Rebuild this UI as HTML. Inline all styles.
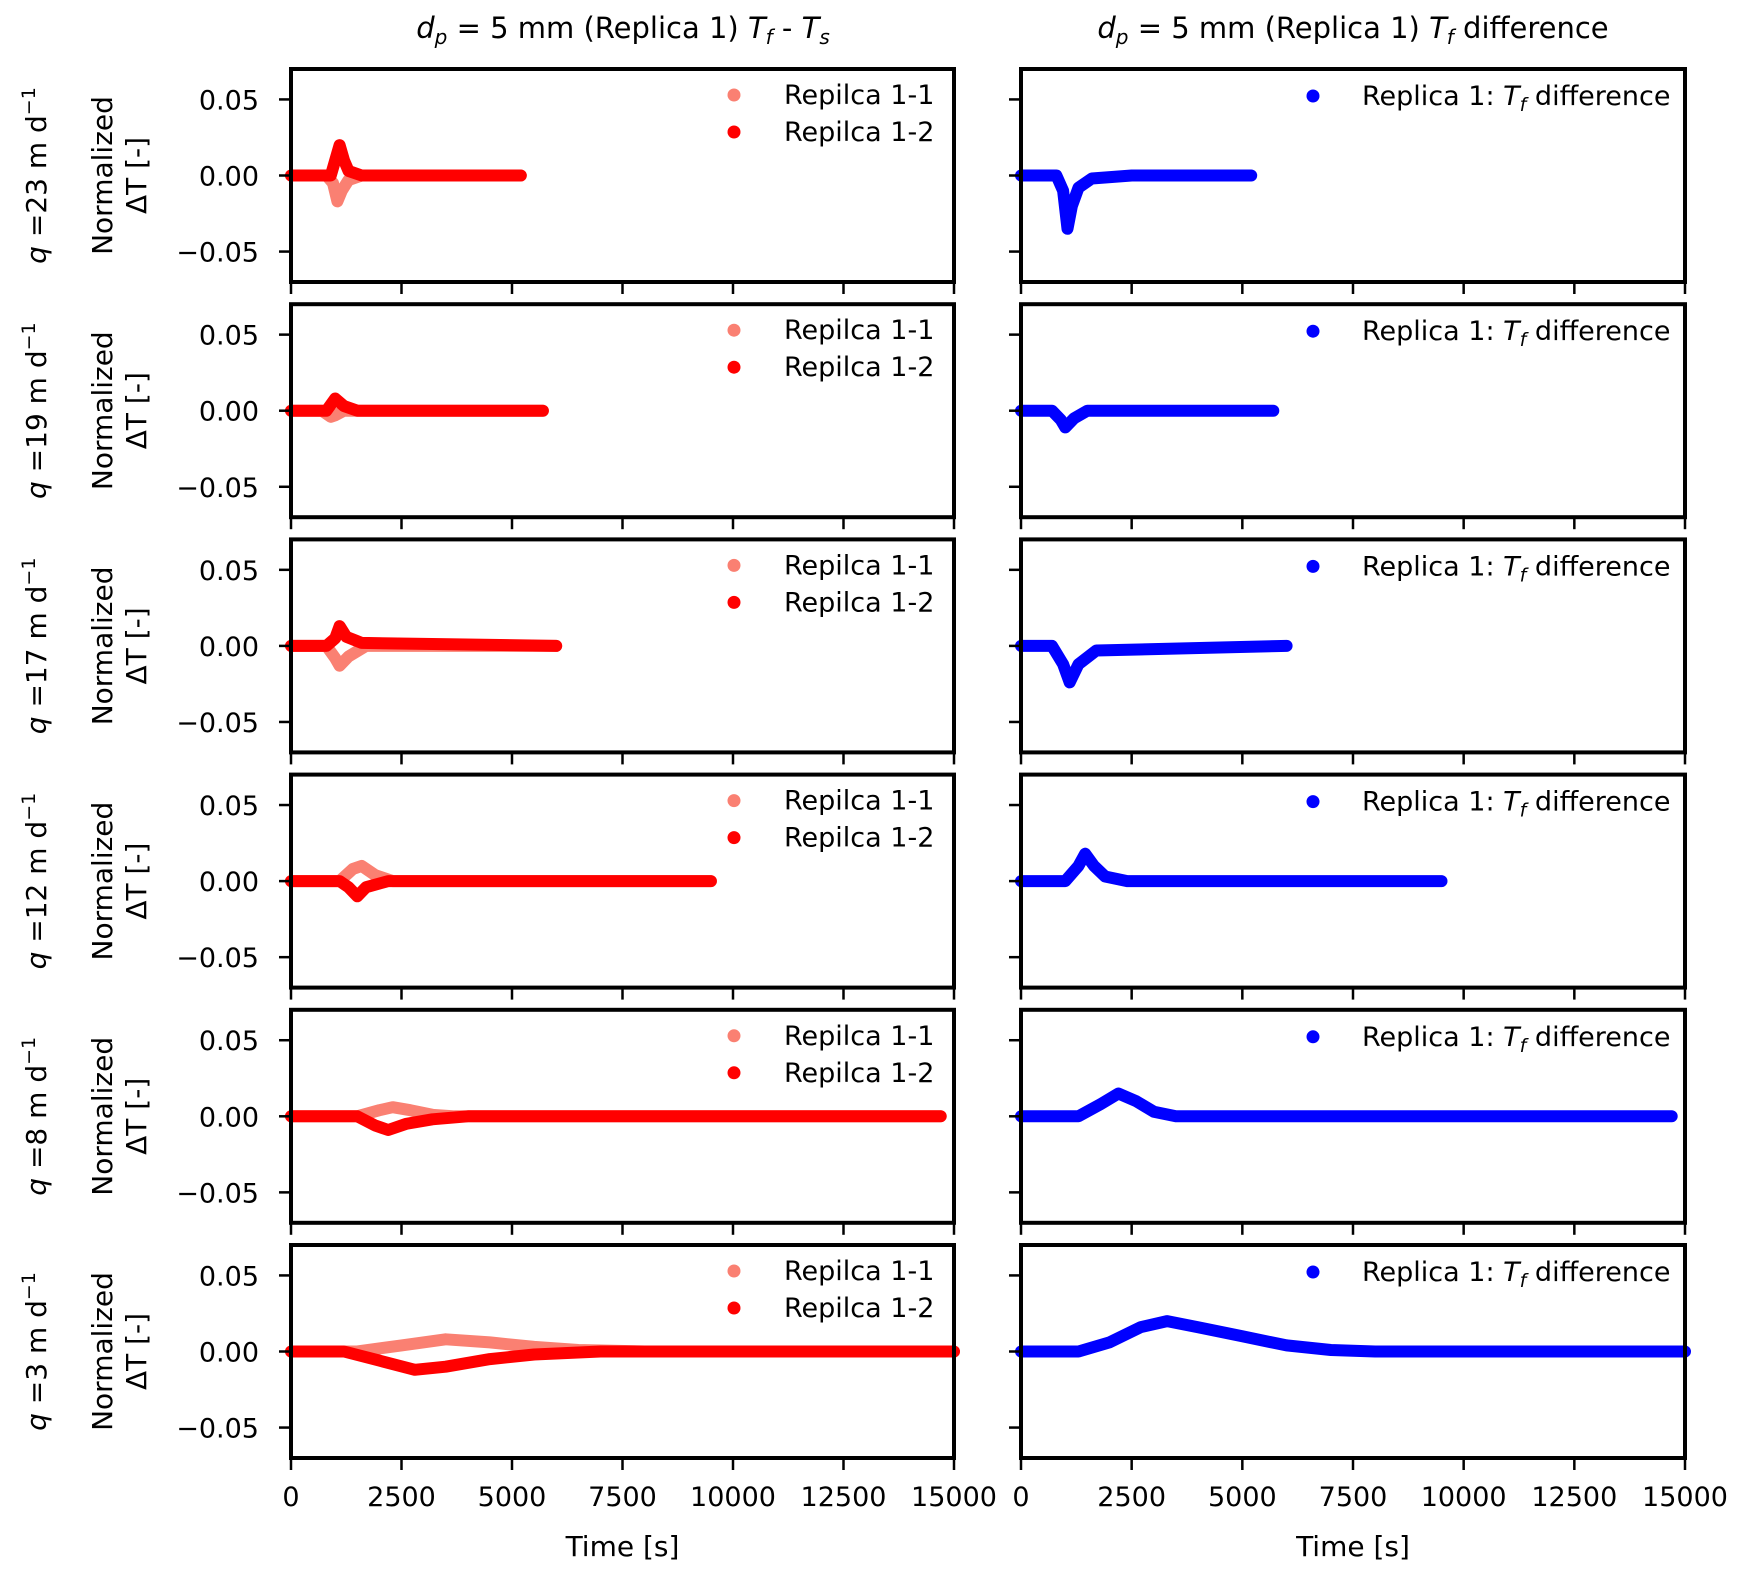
<!DOCTYPE html>
<html><head><meta charset="utf-8"><style>
body{margin:0;background:#fff}
svg{display:block;font-family:"DejaVu Sans","Liberation Sans",sans-serif}
</style></head><body>
<svg id="fig" width="1746" height="1576" xmlns="http://www.w3.org/2000/svg"></svg>
<script>
const NS="http://www.w3.org/2000/svg";
const rowLabels=["23","19","17","12","8","3"];
const xTicks=[0,2500,5000,7500,10000,12500,15000];
const yTicks=[0.05,0,-0.05];
const yTickLabels=["0.05","0.00","\u22120.05"];
// series: [time, value] pairs
const rep11=[
[[0,0],[800,0],[950,-0.005],[1050,-0.017],[1150,-0.01],[1300,-0.003],[1600,0],[5200,0]],
[[0,0],[700,0],[900,-0.004],[1000,-0.003],[1200,0],[5700,0]],
[[0,0],[800,0],[1000,-0.008],[1100,-0.013],[1300,-0.007],[1700,0],[6000,0]],
[[0,0],[1100,0],[1400,0.008],[1600,0.01],[1900,0.004],[2300,0],[9500,0]],
[[0,0],[1500,0],[2000,0.004],[2300,0.006],[2700,0.004],[3200,0.001],[3700,0],[14700,0]],
[[0,0],[1500,0],[2500,0.004],[3500,0.008],[4500,0.006],[5500,0.003],[6500,0.001],[8000,0],[15000,0]]];
const rep12=[
[[0,0],[900,0],[1000,0.01],[1100,0.02],[1200,0.01],[1300,0.003],[1600,0],[5200,0]],
[[0,0],[800,0],[1000,0.008],[1200,0.003],[1500,0],[5700,0]],
[[0,0],[800,0],[1000,0.005],[1100,0.013],[1250,0.006],[1600,0.002],[6000,0]],
[[0,0],[1100,0],[1300,-0.004],[1500,-0.01],[1700,-0.004],[2200,0],[9500,0]],
[[0,0],[1500,0],[1900,-0.006],[2200,-0.009],[2600,-0.005],[3200,-0.002],[4000,0],[14700,0]],
[[0,0],[1200,0],[2000,-0.006],[2800,-0.012],[3500,-0.01],[4500,-0.005],[5500,-0.002],[7000,0],[15000,0]]];
const diff=[
[[0,0],[800,0],[950,-0.01],[1050,-0.035],[1150,-0.02],[1300,-0.008],[1600,-0.002],[2500,0],[5200,0]],
[[0,0],[700,0],[900,-0.006],[1000,-0.011],[1200,-0.005],[1500,0],[5700,0]],
[[0,0],[700,0],[950,-0.012],[1100,-0.024],[1300,-0.012],[1700,-0.003],[6000,0]],
[[0,0],[1000,0],[1300,0.01],[1450,0.018],[1650,0.01],[1900,0.003],[2400,0],[9500,0]],
[[0,0],[1300,0],[1800,0.008],[2200,0.015],[2600,0.01],[3000,0.003],[3500,0],[14700,0]],
[[0,0],[1300,0],[2000,0.006],[2700,0.016],[3300,0.02],[4000,0.016],[5000,0.01],[6000,0.004],[7000,0.001],[8000,0],[15000,0]]];

const svg=document.getElementById('fig');
function el(tag,attrs,parent,text){const e=document.createElementNS(NS,tag);for(const k in attrs)e.setAttribute(k,attrs[k]);if(text!==undefined)e.textContent=text;(parent||svg).appendChild(e);return e;}
const cols=[{x0:291,x1:954},{x0:1021,x1:1685}];
const top0=69,H=213,step=235.2;
function sx(c,t){return cols[c].x0+(t/15000)*(cols[c].x1-cols[c].x0);}
function sy(r,v){const t=top0+r*step;return t+H/2-(v/0.07)*(H/2);}

let g=el('text',{x:623,y:38,'text-anchor':'middle','font-size':29},svg);

g.innerHTML='<tspan font-style="italic">d</tspan><tspan font-style="italic" font-size="20" dy="6">p</tspan><tspan dy="-6"> = 5 mm (Replica 1) </tspan><tspan font-style="italic">T</tspan><tspan font-style="italic" font-size="20" dy="6">f</tspan><tspan dy="-6"> - </tspan><tspan font-style="italic">T</tspan><tspan font-style="italic" font-size="20" dy="6">s</tspan>';
g=el('text',{x:1353,y:38,'text-anchor':'middle','font-size':29},svg);

g.innerHTML='<tspan font-style="italic">d</tspan><tspan font-style="italic" font-size="20" dy="6">p</tspan><tspan dy="-6"> = 5 mm (Replica 1) </tspan><tspan font-style="italic">T</tspan><tspan font-style="italic" font-size="20" dy="6">f</tspan><tspan dy="-6"> difference</tspan>';

function line(r,c,pts,color,name){
  const d=pts.map((p,i)=>(i?'L':'M')+sx(c,p[0]).toFixed(1)+' '+sy(r,p[1]).toFixed(1)).join(' ');
  const p=el('path',{d:d,fill:'none',stroke:color,'stroke-width':12,'stroke-linejoin':'round','stroke-linecap':'round'});
  
  
}
for(let r=0;r<6;r++){
  const t=top0+r*step, cy=t+H/2;
  let q=el('text',{x:0,y:0,transform:`translate(46,${cy}) rotate(-90)`,'text-anchor':'middle','font-size':28});
  
  q.innerHTML='<tspan font-style="italic">q</tspan> ='+rowLabels[r]+' m d<tspan font-size="19" dy="-11">\u22121</tspan>';
  let yl=el('text',{x:0,y:0,transform:`translate(112,${cy}) rotate(-90)`,'text-anchor':'middle','font-size':28},svg,'Normalized');
  
  let yl2=el('text',{x:0,y:0,transform:`translate(146,${cy}) rotate(-90)`,'text-anchor':'middle','font-size':28},svg,'\u0394T [-]');
  
  for(let c=0;c<2;c++){
    const x0=cols[c].x0,x1=cols[c].x1;
    if(c===0){line(r,0,rep11[r],'#fa8072','series-replica-1-1');line(r,0,rep12[r],'#ff0000','series-replica-1-2');}
    else line(r,1,diff[r],'#0000ff','series-tf-difference');
    let b=el('rect',{x:x0,y:t,width:x1-x0,height:H,fill:'none',stroke:'#000','stroke-width':4});
    
    yTicks.forEach((v,i)=>{const y=sy(r,v);el('line',{x1:x0-12,x2:x0,y1:y,y2:y,stroke:'#000','stroke-width':2.5});
      if(c===0){let tl=el('text',{x:x0-32,y:y+10,'text-anchor':'end','font-size':27},svg,yTickLabels[i]);}});
    xTicks.forEach(v=>{const x=sx(c,v);el('line',{x1:x,x2:x,y1:t+H,y2:t+H+12,stroke:'#000','stroke-width':2.5});
      if(r===5){let tl=el('text',{x:x,y:1506,'text-anchor':'middle','font-size':27},svg,String(v));}});
    if(c===0){
      let m1=el('circle',{cx:734,cy:t+26,r:6.5,fill:'#fa8072'});
      let l1=el('text',{x:784,y:t+35,'font-size':27},svg,'Repilca 1-1');
      let m2=el('circle',{cx:734,cy:t+63,r:6.5,fill:'#ff0000'});
      let l2=el('text',{x:784,y:t+72,'font-size':27},svg,'Repilca 1-2');
    } else {
      let m=el('circle',{cx:1313,cy:t+27,r:6.5,fill:'#0000ff'});
      let l=el('text',{x:1362,y:t+36,'font-size':27});
      l.innerHTML='Replica 1: <tspan font-style="italic">T</tspan><tspan font-style="italic" font-size="19" dy="6">f</tspan><tspan dy="-6"> difference</tspan>';
    }
  }
}
[0,1].forEach(c=>{let x=el('text',{x:(cols[c].x0+cols[c].x1)/2,y:1556,'text-anchor':'middle','font-size':28},svg,'Time [s]');});
</script>
</body></html>
